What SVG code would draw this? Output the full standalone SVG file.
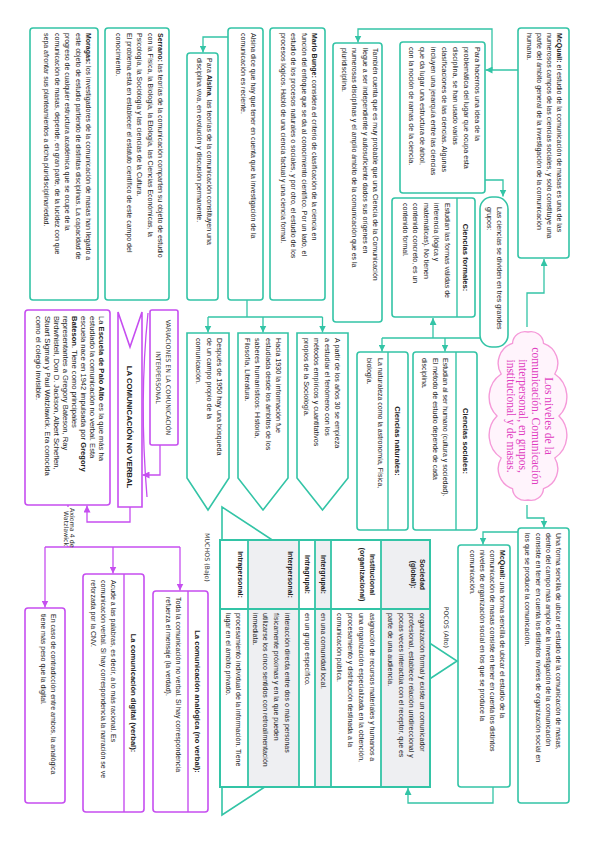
<svg xmlns="http://www.w3.org/2000/svg" width="599" height="848" viewBox="0 0 599 848">
<defs>
<style>
.t{font-family:"Liberation Sans",Arial,sans-serif;font-size:7px;fill:#222}
.t2{font-family:"Liberation Sans",Arial,sans-serif;font-size:7.2px;fill:#222}
.pa{font-family:"Liberation Sans",Arial,sans-serif;font-size:7.6px;fill:#222}
.b{font-weight:bold}
.hd{font-family:"Liberation Sans",Arial,sans-serif;font-size:7.6px;font-weight:bold;text-anchor:middle;fill:#222}
.lab{font-family:"Liberation Sans",Arial,sans-serif;font-size:7px;font-weight:bold;text-anchor:middle;fill:#222}
.hw{font-family:"DejaVu Sans",sans-serif;font-size:6.3px;fill:#333}
.box{fill:#fff;stroke:#33c4a6;stroke-width:1.6}
.mbox{fill:#fff;stroke:#c64ef0;stroke-width:1.6}
.div{stroke:#33c4a6;stroke-width:1.4}
.mdiv{stroke:#c64ef0;stroke-width:1.4}
.ln{fill:none;stroke:#33c4a6;stroke-width:1.3}
.mln{fill:none;stroke:#c64ef0;stroke-width:1.3}
.cl{font-family:"Liberation Serif","Times New Roman",serif;font-size:11.5px;fill:#e03cc0;text-anchor:middle}
</style>
<marker id="at" viewBox="0 0 8 8" refX="8" refY="4" markerWidth="7" markerHeight="7" orient="auto" markerUnits="userSpaceOnUse"><path d="M0,0 L8,4 L0,8 Z" fill="#33c4a6"/></marker>
<marker id="am" viewBox="0 0 8 8" refX="8" refY="4" markerWidth="7" markerHeight="7" orient="auto" markerUnits="userSpaceOnUse"><path d="M0,0 L8,4 L0,8 Z" fill="#c64ef0"/></marker>
</defs>
<rect width="599" height="848" fill="#fff"/>
<g transform="translate(599,0) rotate(90)">

<g id="connectors">
<path class="ln" d="M327,72 H293 V55 H259" marker-end="url(#at)"/>
<path class="ln" d="M505,72 H518 V55 H527.5" marker-end="url(#at)"/>
<path class="ln" d="M70,81 V113.5" marker-end="url(#at)"/>
<path class="ln" d="M70,107 H29 V241 H42.5" marker-end="url(#at)"/>
<path class="ln" d="M180,114 V96 H196.5" marker-end="url(#at)"/>
<path class="ln" d="M338,119 V217"/>
<path class="ln" d="M338,166 H318" marker-end="url(#at)"/>
<path class="ln" d="M338,154 H351.5" marker-end="url(#at)"/>
<path class="ln" d="M338,217 H351.5" marker-end="url(#at)"/>
<path class="ln" d="M532,81 V116 H544.5" marker-end="url(#at)"/>
<path class="ln" d="M787,106 H803 V191 H788" marker-end="url(#at)"/>
<path class="ln" d="M37,371 V396 H52.5" marker-end="url(#at)"/>
<path class="ln" d="M300,352 H317"/>
<path class="ln" d="M317,276.5 V391"/>
<path class="ln" d="M317,276.5 H332.5" marker-end="url(#at)"/>
<path class="ln" d="M317,336 H332.5" marker-end="url(#at)"/>
<path class="ln" d="M317,391 H332.5" marker-end="url(#at)"/>
<path class="mln" d="M445,439 H475 V456.5" marker-end="url(#am)"/>
<path class="mln" d="M507,469 H522 V512 H505.5" marker-end="url(#am)"/>
<path class="mln" d="M505,531 H547"/>
<path class="mln" d="M547,419 V554"/>
<path class="mln" d="M547,419 H590.5" marker-end="url(#am)"/>
<path class="mln" d="M547,486 H573.5" marker-end="url(#am)"/>
<path class="mln" d="M547,554 H607.5" marker-end="url(#am)"/>
</g>

<g id="cloud">
<path d="M500,71 A12.5,12.5 0 0 1 488.7,86.5 A21,21 0 0 1 458,97.8 A27.5,27.5 0 0 1 416,102 A27.5,27.5 0 0 1 374,97.8 A21,21 0 0 1 343.3,86.5 A12.5,12.5 0 0 1 332,71 A12.5,12.5 0 0 1 343.3,55.5 A21,21 0 0 1 374,44.2 A27.5,27.5 0 0 1 416,40 A27.5,27.5 0 0 1 458,44.2 A21,21 0 0 1 488.7,55.5 A12.5,12.5 0 0 1 500,71 Z" fill="#fff4fc" stroke="#f59ad9" stroke-width="1.4"/>
<text class="cl" x="416" y="54">Los niveles de la</text>
<text class="cl" x="416" y="67">comunicación. Comunicación</text>
<text class="cl" x="416" y="80">interpersonal, en grupos,</text>
<text class="cl" x="416" y="92">institucional y de masas.</text>
</g>

<g id="mcquail1">
<rect class="box" x="28" y="30" width="230" height="51" rx="3"/>
<text class="t" x="33" y="42"><tspan class="b">McQuail:</tspan> el estudio de la comunicación de masas es una de las</text>
<text class="t" x="33" y="52">numerosos campos de las ciencias sociales, y solo constituye una</text>
<text class="t" x="33" y="62">parte del ámbito general de la investigación de la comunicación</text>
<text class="t" x="33" y="72">humana.</text>
</g>

<g id="unaforma">
<rect class="box" x="528" y="30" width="275" height="51" rx="3"/>
<text class="t" x="533" y="43">Una forma sencilla de ubicar el estudio de la comunicación de masas,</text>
<text class="t" x="533" y="53">dentro del campo más amplio de la investigación de la comunicación</text>
<text class="t" x="533" y="63.5">consiste en tener en cuenta los distintos niveles de organización social en</text>
<text class="t" x="533" y="74">los que se produce la comunicación.</text>
</g>

<g id="mcquail2">
<rect class="box" x="545" y="89" width="242" height="52" rx="3"/>
<text class="t" x="550" y="99"><tspan class="b">McQuail:</tspan> una forma sencilla de ubicar el estudio de la</text>
<text class="t" x="550" y="109">comunicación de masas consiste en tener en cuenta los distintos</text>
<text class="t" x="550" y="119">niveles de organización social en los que se produce la</text>
<text class="t" x="550" y="129">comunicación.</text>
</g>

<g id="parahacernos">
<rect class="box" x="42" y="114" width="151" height="85" rx="3"/>
<text class="t2" x="47" y="124">Para hacernos una idea de la</text>
<text class="t2" x="47" y="135">problemática del lugar que ocupa esta</text>
<text class="t2" x="47" y="146">disciplina, se han usado varias</text>
<text class="t2" x="47" y="157">clasificaciones de las ciencias. Algunas</text>
<text class="t2" x="47" y="168">incluyen una jerarquía entre las ciencias</text>
<text class="t2" x="47" y="179">que da lugar una estructura de árbol,</text>
<text class="t2" x="47" y="190">con la noción de ramas de la ciencia.</text>
</g>

<g id="lasciencias">
<rect class="box" x="197" y="91" width="150" height="28" rx="12"/>
<text class="t" x="207" y="102.5">Las ciencias se dividen en tres grandes</text>
<text class="t" x="207" y="112.5">grupos:</text>
</g>

<g id="formales">
<rect class="box" x="198" y="124" width="119" height="83" rx="3"/>
<line class="div" x1="198" y1="142" x2="317" y2="142"/>
<text class="hd" x="257.5" y="136">Ciencias formales:</text>
<text class="t" x="203" y="154.5">Estudian las formas válidas de</text>
<text class="t" x="203" y="165">inferencia (lógica y</text>
<text class="t" x="203" y="175.5">matemáticas). No tienen</text>
<text class="t" x="203" y="186">contenido concreto, es un</text>
<text class="t" x="203" y="196.5">contenido formal.</text>
</g>

<g id="sociales">
<rect class="box" x="352" y="122" width="178" height="64" rx="3"/>
<line class="div" x1="352" y1="143" x2="530" y2="143"/>
<text class="hd" x="441" y="136.5">Ciencias sociales:</text>
<text class="t" x="358" y="156">Estudian al ser humano (cultura y sociedad).</text>
<text class="t" x="358" y="166.5">El método de estudio depende de cada</text>
<text class="t" x="358" y="177">disciplina.</text>
</g>

<g id="naturales">
<rect class="box" x="352" y="191" width="178" height="51" rx="3"/>
<line class="div" x1="352" y1="211" x2="530" y2="211"/>
<text class="hd" x="441" y="204">Ciencias naturales:</text>
<text class="t" x="358" y="221.5">La naturaleza como la astronomía, Física,</text>
<text class="t" x="358" y="232">biología.</text>
</g>

<g id="tambien">
<rect class="box" x="43" y="217" width="279" height="49" rx="3"/>
<text class="t" x="48" y="226">También cuenta que es muy probable que una Ciencia de la Comunicación</text>
<text class="t" x="48" y="236.5">llegue a ser independiente y autosuficiente dados sus orígenes en</text>
<text class="t" x="48" y="247">numerosas disciplinas y el amplio ámbito de la comunicación que es la</text>
<text class="t" x="48" y="257.5">pluridisciplina.</text>
</g>

<g id="bunge">
<rect class="box" x="28" y="274" width="272" height="55" rx="3"/>
<text class="t" x="33" y="287"><tspan class="b">Mario Bunge:</tspan> considera el criterio de clasificación de la ciencia en</text>
<text class="t" x="33" y="297.5">función del enfoque que se da al conocimiento científico. Por un lado, el</text>
<text class="t" x="33" y="308">estudio de los procesos naturales o sociales, y por otro, el estudio de los</text>
<text class="t" x="33" y="318.5">procesos lógicos. Habló de una ciencia factual y una ciencia formal.</text>
</g>

<g id="alsina">
<rect class="box" x="28" y="336" width="272" height="35" rx="3"/>
<text class="t" x="33" y="348">Alsina dice que hay que tener en cuenta que la investigación de la</text>
<text class="t" x="33" y="358.5">comunicación es reciente.</text>
</g>

<g id="paraalsina">
<rect class="box" x="53" y="381" width="247" height="31" rx="3"/>
<text class="t" x="58" y="392">Para <tspan class="b">Alsina</tspan>, las teorías de la comunicación constituyen una</text>
<text class="t" x="58" y="402.5">disciplina viva, en evolución y discusión permanente.</text>
</g>

<g id="serrano">
<rect class="box" x="28" y="430" width="272" height="64" rx="3"/>
<text class="t" x="33" y="441"><tspan class="b">Serrano:</tspan> las teorías de la comunicación comparten su objeto de estudio</text>
<text class="t" x="33" y="451.5">con la Física, la Biología, la Etología, las Ciencias Económicas, la</text>
<text class="t" x="33" y="462">Psicología, la Sociología y las ciencias de la Cultura.</text>
<text class="t" x="33" y="472.5">El problema está en establecer el estatuto científico de este campo del</text>
<text class="t" x="33" y="483">conocimiento.</text>
</g>

<g id="moragas">
<rect class="box" x="28" y="501" width="272" height="68" rx="3"/>
<text class="t" x="33" y="513"><tspan class="b">Moragas:</tspan> los investigadores de la comunicación de masas han llegado a</text>
<text class="t" x="33" y="523.5">este objeto de estudio partiendo de distintas disciplinas. La capacidad de</text>
<text class="t" x="33" y="534">progreso de cualquier estructura académica que se ocupe de la</text>
<text class="t" x="33" y="544.5">comunicación de masas, depende, en gran parte, de la lucidez con que</text>
<text class="t" x="33" y="555">sepa afrontar sus planteamientos a dicha pluridisciplinariedad.</text>
</g>

<g id="apartir">
<polygon class="box" points="333,251 478,251 510,276.5 478,302 333,302"/>
<text class="t2" x="338" y="264">A partir de los años 30 se empieza</text>
<text class="t2" x="338" y="274.5">a estudiar el fenómeno con los</text>
<text class="t2" x="338" y="285">métodos empíricos y cuantitativos</text>
<text class="t2" x="338" y="295.5">propios de la Sociología.</text>
</g>

<g id="hacia1930">
<polygon class="box" points="333,311 478,311 510,336 478,361 333,361"/>
<text class="t2" x="338" y="323">Hacia 1930 la información fue</text>
<text class="t2" x="338" y="333.5">estudiada desde los ámbitos de los</text>
<text class="t2" x="338" y="344">saberes humanísticos: Historia,</text>
<text class="t2" x="338" y="354.5">Filosofía, Literatura.</text>
</g>

<g id="despues1950">
<polygon class="box" points="333,370 478,370 510,391 478,412 333,412"/>
<text class="t2" x="338" y="382">Después de 1950 hay una búsqueda</text>
<text class="t2" x="338" y="392.5">de un campo propio de la</text>
<text class="t2" x="338" y="403">comunicación.</text>
</g>

<g id="piramide">
<polygon points="661,142 815,377 507,377" fill="#fff" stroke="#33c4a6" stroke-width="1.6"/>
<text class="hw" x="648" y="155" text-anchor="end">POCOS (Alto)</text>
<text class="hw" x="533" y="394.5">MUCHOS (Bajo)</text>
</g>

<g id="tabla">
<rect x="540" y="169" width="247" height="49" fill="#eeeff2"/>
<rect x="540" y="268" width="247" height="16" fill="#eeeff2"/>
<rect x="540" y="300" width="247" height="51" fill="#eeeff2"/>
<rect x="540" y="218" width="247" height="50" fill="#fff"/>
<rect x="540" y="284" width="247" height="16" fill="#fff"/>
<rect x="540" y="351" width="247" height="28" fill="#fff"/>
<rect x="540" y="169" width="247" height="210" fill="none" stroke="#33c4a6" stroke-width="2"/>
<g stroke="#33c4a6" stroke-width="1.8">
<line x1="540" y1="218" x2="787" y2="218"/>
<line x1="540" y1="268" x2="787" y2="268"/>
<line x1="540" y1="284" x2="787" y2="284"/>
<line x1="540" y1="300" x2="787" y2="300"/>
<line x1="540" y1="351" x2="787" y2="351"/>
<line x1="609" y1="169" x2="609" y2="379"/>
</g>
<text class="lab" x="574.5" y="179">Sociedad</text>
<text class="lab" x="574.5" y="188">(global):</text>
<text class="lab" x="574.5" y="229">Institucional</text>
<text class="lab" x="574.5" y="239">(organizacional)</text>
<text class="lab" x="574.5" y="278.5">Intergrupal:</text>
<text class="lab" x="574.5" y="294.5">Intragrupal:</text>
<text class="lab" x="574.5" y="311">Interpersonal:</text>
<text class="lab" x="574.5" y="361.5">Intrapersonal:</text>
<text class="t" x="613" y="179.5">organización formal y existe un comunicador</text>
<text class="t" x="613" y="190">profesional, establece relación unidireccional y</text>
<text class="t" x="613" y="200.5">pocas veces interactúa con el receptor, que es</text>
<text class="t" x="613" y="211">parte de una audiencia.</text>
<text class="t" x="613" y="229.5">asignación de recursos materiales y humanos a</text>
<text class="t" x="613" y="240.5">una organización especializada en la obtención,</text>
<text class="t" x="613" y="251.5">procesamiento y distribución destinada a la</text>
<text class="t" x="613" y="262.5">comunicación pública.</text>
<text class="t" x="613" y="278.5">en una comunidad local.</text>
<text class="t" x="613" y="294.5">en un grupo específico.</text>
<text class="t" x="613" y="314.5">interacción directa entre dos o más personas</text>
<text class="t" x="613" y="325.5">físicamente próximas y en la que pueden</text>
<text class="t" x="613" y="336.5">utilizarse los cinco sentidos con retroalimentación</text>
<text class="t" x="613" y="346.5">inmediata.</text>
<text class="t" x="613" y="363.5">procesamiento individual de la información. Tiene</text>
<text class="t" x="613" y="373.5">lugar en el ámbito privado.</text>
</g>

<g id="variaciones">
<rect class="mbox" x="310" y="421" width="135" height="28" rx="2"/>
<text class="hw" x="377.5" y="433" text-anchor="middle">VARIACIONES EN LA COMUNICACIÓN</text>
<text class="hw" x="377.5" y="443.5" text-anchor="middle">INTERPERSONAL</text>
<path class="mln" d="M313,451 Q400,460 497,452"/>
</g>

<g id="noverbal">
<polygon points="312,457 507,457 507,481 312,481 347,469" fill="#fff" stroke="#c64ef0" stroke-width="1.6"/>
<text x="427" y="472" text-anchor="middle" font-family="Liberation Sans, Arial, sans-serif" font-size="7.8" font-weight="bold" fill="#222">LA COMUNICACIÓN NO VERBAL</text>
</g>

<g id="paloalto">
<rect class="mbox" x="310" y="489" width="195" height="85" rx="3"/>
<text class="pa" x="316" y="500">La <tspan class="b">Escuela de Palo Alto</tspan> es la que más ha</text>
<text class="pa" x="316" y="509">estudiado la comunicación no verbal. Esta</text>
<text class="pa" x="316" y="518">escuela nace en 1942 impulsada por <tspan class="b">Gregory</tspan></text>
<text class="pa" x="316" y="527"><tspan class="b">Bateson</tspan>. Tiene como principales</text>
<text class="pa" x="316" y="536">representantes a Gregory Bateson, Ray</text>
<text class="pa" x="316" y="545">Birdwhistell, Don D. Jackson, Albert Scheflen,</text>
<text class="pa" x="316" y="554">Stuart Sigman y Paul Watzlawick. Era conocida</text>
<text class="pa" x="316" y="563">como el colegio invisible.</text>
</g>

<g id="axioma">
<rect x="507" y="524" width="39" height="13" fill="#fff"/>
<text class="hw" x="508" y="529.5" font-size="5.5">Axioma 4 de</text>
<text class="hw" x="511" y="535.5" font-size="5.5">Watzlawick</text>
</g>

<g id="analogica">
<rect class="mbox" x="591" y="391" width="221" height="55" rx="3"/>
<line class="mdiv" x1="591" y1="411" x2="812" y2="411"/>
<text class="hd" x="701.5" y="404">La comunicación analógica (no verbal):</text>
<text class="t" x="597" y="423">Toda la comunicación no verbal. Si hay correspondencia</text>
<text class="t" x="597" y="433">refuerza el mensaje (la verdad).</text>
</g>

<g id="digital">
<rect class="mbox" x="574" y="455" width="238" height="61" rx="3"/>
<line class="mdiv" x1="574" y1="475" x2="812" y2="475"/>
<text class="hd" x="693" y="468">La comunicación digital (verbal):</text>
<text class="t" x="580" y="488">Acude a las palabras, es decir, a lo más racional. Es</text>
<text class="t" x="580" y="498">comunicación verbal. Si hay correspondencia la narración se ve</text>
<text class="t" x="580" y="508">reforzada por la CNV.</text>
</g>

<g id="encaso">
<rect class="mbox" x="608" y="534" width="195" height="40" rx="3"/>
<text class="t" x="614" y="548">En caso de contradicción entre ambos, la analógica</text>
<text class="t" x="614" y="558">tiene más peso que la digital.</text>
</g>

</g>
</svg>
